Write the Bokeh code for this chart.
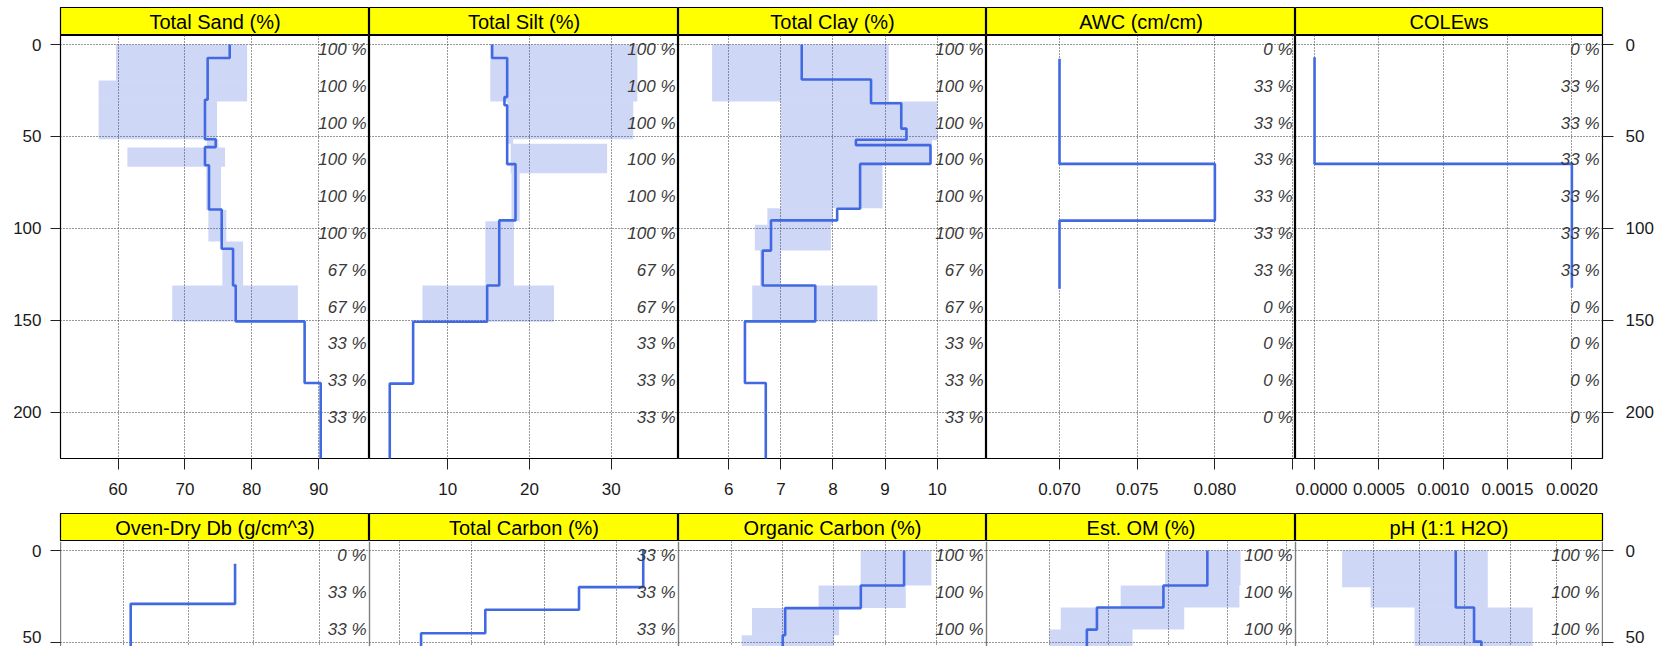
from bokeh.plotting import figure
from bokeh.layouts import row, column
from bokeh.models import Range1d, FixedTicker, LinearAxis, Grid, ColumnDataSource, Span, PrintfTickFormatter
from bokeh.core.properties import value
from bokeh.embed import file_html
from bokeh.resources import INLINE

# ---------------- data ----------------
depth_ticks = [0, 50, 100, 150, 200]
slice_tops = [0, 20, 40, 60, 80, 100, 120, 140, 160, 180, 200]

# Row 1
sand_title = "Total Sand (%)"
sand_ticks = [60, 70, 80, 90]
sand_xlim = (51.4, 97.6)
sand_breaks = [0, 7.3, 30, 51.5, 55.8, 65.6, 89.7, 111, 131, 150.5, 184, 230]
sand_median = [76.7, 73.4, 73.0, 74.6, 73.0, 73.6, 75.5, 77.2, 77.6, 87.9, 90.3]
sand_band_breaks = [0, 19.6, 31, 51.5, 56, 66.5, 90, 107, 131, 150.5]
sand_q25 = [59.7, 57.1, 57.1, 73.3, 61.4, 73.2, 73.5, 75.6, 68.1]
sand_q75 = [79.3, 79.3, 74.8, 75.0, 76.0, 75.4, 76.2, 78.7, 86.9]
sand_pct = [100, 100, 100, 100, 100, 100, 67, 67, 33, 33, 33]

silt_title = "Total Silt (%)"
silt_ticks = [10, 20, 30]
silt_xlim = (0.42, 38.24)
silt_breaks = [0, 7.3, 28.6, 33, 65, 95.6, 131, 150.7, 184.3, 230]
silt_median = [15.43, 17.27, 16.94, 17.27, 18.29, 16.3, 14.82, 5.76, 2.9]
silt_band_breaks = [0, 31, 51.5, 54, 70, 96, 131, 150.7]
silt_q25 = [15.2, 17.3, 17.3, 17.7, 17.8, 14.6, 6.9]
silt_q75 = [33.2, 32.7, 18.0, 29.5, 18.8, 18.1, 23.0]
silt_pct = [100, 100, 100, 100, 100, 100, 67, 67, 33, 33, 33]

clay_title = "Total Clay (%)"
clay_ticks = [6, 7, 8, 9, 10]
clay_xlim = (5.035, 10.946)
clay_breaks = [0, 19, 31.9, 45.7, 51.8, 54.7, 64.9, 89.3, 95.6, 112, 131, 150.5, 184, 230]
clay_median = [7.40, 8.73, 9.31, 9.41, 8.44, 9.87, 8.52, 8.08, 6.81, 6.65, 7.66, 6.31, 6.71]
clay_band_breaks = [0, 31, 52, 65, 89, 98, 112, 131, 150.5]
clay_q25 = [5.68, 7.0, 7.0, 7.0, 6.74, 6.5, 6.6, 6.45]
clay_q75 = [9.07, 10.0, 9.9, 8.95, 8.0, 7.96, 7.0, 8.85]
clay_pct = [100, 100, 100, 100, 100, 100, 67, 67, 33, 33, 33]

awc_title = "AWC (cm/cm)"
awc_ticks = [0.070, 0.075, 0.080]
awc_minor = [0.085]
awc_xlim = (0.0653, 0.08519)
awc_breaks = [7.8, 64.9, 95.7, 132.8]
awc_median = [0.070, 0.080, 0.070]
awc_pct = [0, 33, 33, 33, 33, 33, 33, 0, 0, 0, 0]

cole_title = "COLEws"
cole_ticks = [0.0, 0.0005, 0.0010, 0.0015, 0.0020]
cole_xlim = (-0.000148, 0.002238)
cole_breaks = [6.9, 64.9, 132.2]
cole_median = [0.0, 0.002]
cole_pct = [0, 33, 33, 33, 33, 33, 33, 0, 0, 0, 0]

# Row 2 (only the top of these panels is visible)
db_title = "Oven-Dry Db (g/cm^3)"
db_ticks = [1.3, 1.4, 1.5, 1.6]
db_xlim = (1.2034, 1.6771)
db_breaks = [7.2, 29, 60]
db_median = [1.471, 1.311]
db_pct = [0, 33, 33]

tc_title = "Total Carbon (%)"
tc_ticks = [0.5, 1.0, 1.5, 2.0]
tc_xlim = (0.2925, 2.4288)
tc_breaks = [0, 19.9, 32.2, 45, 60]
tc_median = [2.185, 1.741, 1.093, 0.649]
tc_pct = [33, 33, 33]

oc_title = "Organic Carbon (%)"
oc_ticks = [0.5, 1.0, 1.5, 2.0, 2.5]
oc_xlim = (-0.017, 2.988)
oc_breaks = [0, 19, 31.3, 46, 60]
oc_median = [2.184, 1.762, 1.024, 1.0]
oc_band_breaks = [0, 19, 31.3, 46, 60]
oc_q25 = [1.76, 1.35, 0.7, 0.6]
oc_q75 = [2.45, 2.2, 1.55, 1.5]
oc_pct = [100, 100, 100]

om_title = "Est. OM (%)"
om_ticks = [1, 2, 3, 4, 5]
om_xlim = (-0.0606, 5.145)
om_breaks = [0, 19, 31, 43, 60]
om_median = [3.66, 2.92, 1.80, 1.63]
om_band_breaks = [0, 19, 31, 43, 60]
om_q25 = [2.95, 2.2, 1.19, 1.0]
om_q75 = [4.22, 4.2, 3.27, 2.4]
om_pct = [100, 100, 100]

ph_title = "pH (1:1 H2O)"
ph_ticks = [4.5, 5.0, 5.5, 6.0, 6.5, 7.0]
ph_xlim = (4.151, 7.502)
ph_breaks = [0, 31, 49.5, 60]
ph_median = [5.9, 6.1, 6.18]
ph_band_breaks = [0, 20, 31, 60]
ph_q25 = [4.66, 4.97, 5.45]
ph_q75 = [6.25, 6.25, 6.74]
ph_pct = [100, 100, 100]

# ---------------- layout / style ----------------
FONT = "Liberation Sans"
W = [309, 309, 308, 309, 307]
BL, BR = 60, 60
TOP_PAD = 7
STRIP_H = 28
PX_PER_CM = 1.84
TOP_DEPTH = -4.89
ROW1_FRAME = 423
ROW1_BOTTOM = 55
ROW2_FRAME = 105
LABEL_NUDGE = 3          # cm: lifts the last depth label of the cut-off row so it stays on the page
LINE_COLOR = "#4169E1"
BAND_COLOR = "#2f50d6"
GRID_KW = dict(grid_line_color="#333333", grid_line_dash="1 2", grid_line_width=1)


def borders(i):
    return (BL if i == 0 else 0, BR if i == 4 else 0)


def strip(i, title, pad_top):
    bl, br = borders(i)
    s = figure(width=W[i] + bl + br, height=STRIP_H + pad_top, x_range=Range1d(0, 1), y_range=Range1d(0, 1),
               toolbar_location=None, output_backend="svg", x_axis_location=None, y_axis_location=None,
               min_border_left=bl, min_border_right=br, min_border_top=pad_top, min_border_bottom=0,
               background_fill_color="#ffff00", border_fill_color="white",
               outline_line_color="black", outline_line_width=1.2)
    s.center = []
    s.text(x=[0.5], y=[0.5], text=[title], text_font=value(FONT), text_font_size="20px",
           text_align="center", text_baseline="middle", text_color="black")
    return s


def axis_style(ax, tick_out, standoff):
    ax.axis_line_color = None
    ax.major_tick_out = tick_out
    ax.major_tick_in = 0
    ax.minor_tick_out = tick_out
    ax.minor_tick_in = 0
    ax.major_tick_line_color = "#222222"
    ax.minor_tick_line_color = "#222222"
    ax.major_label_text_font = FONT
    ax.major_label_text_font_size = "17px"
    ax.major_label_text_color = "#1a1a1a"
    ax.major_label_standoff = standoff


def depth_axis(yt, full, tick_out, standoff):
    if full:
        ax = LinearAxis(ticker=FixedTicker(ticks=yt, minor_ticks=[]))
        axis_style(ax, tick_out, standoff)
        ax.minor_tick_line_color = None
        return ax
    last = yt[-1]
    lab_ticks = yt[:-1] + [last - LABEL_NUDGE]
    ax = LinearAxis(ticker=FixedTicker(ticks=lab_ticks, minor_ticks=yt),
                    major_label_overrides={last - LABEL_NUDGE: str(last)})
    axis_style(ax, tick_out, standoff)
    ax.major_tick_line_color = None
    return ax


def panel(i, spec, frame_h, bottom_axis):
    bl, br = borders(i)
    bb = ROW1_BOTTOM if bottom_axis else 0
    bottom_depth = TOP_DEPTH + frame_h / PX_PER_CM
    p = figure(width=W[i] + bl + br, height=frame_h + bb,
               x_range=Range1d(*spec["xlim"]), y_range=Range1d(bottom_depth, TOP_DEPTH),
               toolbar_location=None, output_backend="svg", x_axis_location=None, y_axis_location=None,
               min_border_left=bl, min_border_right=br, min_border_top=0, min_border_bottom=bb,
               background_fill_color="white", border_fill_color="white",
               outline_line_color="black" if bottom_axis else None, outline_line_width=1.2)
    p.center = []
    yt = [d for d in depth_ticks if d <= bottom_depth]
    minor = spec.get("minor", [])
    p.add_layout(Grid(dimension=0, ticker=FixedTicker(ticks=spec["ticks"] + minor), **GRID_KW))
    p.add_layout(Grid(dimension=1, ticker=FixedTicker(ticks=yt), **GRID_KW))

    if bottom_axis:
        ax = LinearAxis(ticker=FixedTicker(ticks=spec["ticks"], minor_ticks=minor),
                        formatter=PrintfTickFormatter(format=spec["fmt"]))
        axis_style(ax, 11, 13)
        if not minor:
            ax.minor_tick_line_color = None
        p.add_layout(ax, "below")
    if i == 0:
        p.add_layout(depth_axis(yt, bottom_axis, 10, 9), "left")
    if i == 4:
        p.add_layout(depth_axis(yt, bottom_axis, 11, 12), "right")

    if not bottom_axis:
        x0, x1 = spec["xlim"]
        p.add_layout(Span(location=x0, dimension="height", line_color="black", line_width=1.2))
        p.add_layout(Span(location=x1, dimension="height", line_color="black", line_width=1.2))

    # IQR band
    bb_ = spec.get("band_breaks", [])
    if bb_:
        src = ColumnDataSource(dict(top=bb_[:-1], bottom=bb_[1:], left=spec["q25"], right=spec["q75"]))
        p.quad(top="top", bottom="bottom", left="left", right="right", source=src,
               fill_color=BAND_COLOR, fill_alpha=0.23, line_color=None)

    # median step profile
    xs, ys = [], []
    br_ = spec["breaks"]
    for k, v in enumerate(spec["median"]):
        xs += [v, v]
        ys += [br_[k], br_[k + 1]]
    p.line(xs, ys, line_color=LINE_COLOR, line_width=2.6)

    # contributing fraction labels
    n = len(spec["pct"])
    tsrc = ColumnDataSource(dict(x=[spec["xlim"][1]] * n, y=slice_tops[:n],
                                 t=[f"{v} %" for v in spec["pct"]]))
    p.text(x="x", y="y", text="t", source=tsrc, text_font=value(FONT), text_font_style="italic",
           text_font_size="17px", text_color="#3a3a3a", text_align="right", text_baseline="middle",
           x_offset=-3, y_offset=5)
    return p


row1_specs = [
    (sand_title, dict(xlim=sand_xlim, ticks=sand_ticks, fmt="%d", breaks=sand_breaks, median=sand_median,
                      band_breaks=sand_band_breaks, q25=sand_q25, q75=sand_q75, pct=sand_pct)),
    (silt_title, dict(xlim=silt_xlim, ticks=silt_ticks, fmt="%d", breaks=silt_breaks, median=silt_median,
                      band_breaks=silt_band_breaks, q25=silt_q25, q75=silt_q75, pct=silt_pct)),
    (clay_title, dict(xlim=clay_xlim, ticks=clay_ticks, fmt="%d", breaks=clay_breaks, median=clay_median,
                      band_breaks=clay_band_breaks, q25=clay_q25, q75=clay_q75, pct=clay_pct)),
    (awc_title, dict(xlim=awc_xlim, ticks=awc_ticks, minor=awc_minor, fmt="%.3f", breaks=awc_breaks,
                     median=awc_median, pct=awc_pct)),
    (cole_title, dict(xlim=cole_xlim, ticks=cole_ticks, fmt="%.4f", breaks=cole_breaks,
                      median=cole_median, pct=cole_pct)),
]
row2_specs = [
    (db_title, dict(xlim=db_xlim, ticks=db_ticks, fmt="%.1f", breaks=db_breaks, median=db_median, pct=db_pct)),
    (tc_title, dict(xlim=tc_xlim, ticks=tc_ticks, fmt="%.1f", breaks=tc_breaks, median=tc_median, pct=tc_pct)),
    (oc_title, dict(xlim=oc_xlim, ticks=oc_ticks, fmt="%.1f", breaks=oc_breaks, median=oc_median,
                    band_breaks=oc_band_breaks, q25=oc_q25, q75=oc_q75, pct=oc_pct)),
    (om_title, dict(xlim=om_xlim, ticks=om_ticks, fmt="%d", breaks=om_breaks, median=om_median,
                    band_breaks=om_band_breaks, q25=om_q25, q75=om_q75, pct=om_pct)),
    (ph_title, dict(xlim=ph_xlim, ticks=ph_ticks, fmt="%.1f", breaks=ph_breaks, median=ph_median,
                    band_breaks=ph_band_breaks, q25=ph_q25, q75=ph_q75, pct=ph_pct)),
]

strips1 = row(*[strip(i, t, TOP_PAD) for i, (t, s) in enumerate(row1_specs)])
panels1 = row(*[panel(i, s, ROW1_FRAME, True) for i, (t, s) in enumerate(row1_specs)])
strips2 = row(*[strip(i, t, 0) for i, (t, s) in enumerate(row2_specs)])
panels2 = row(*[panel(i, s, ROW2_FRAME, False) for i, (t, s) in enumerate(row2_specs)])

layout = column(strips1, panels1, strips2, panels2)
open("out.html", "w").write(file_html(layout, INLINE, title="slab profiles"))
